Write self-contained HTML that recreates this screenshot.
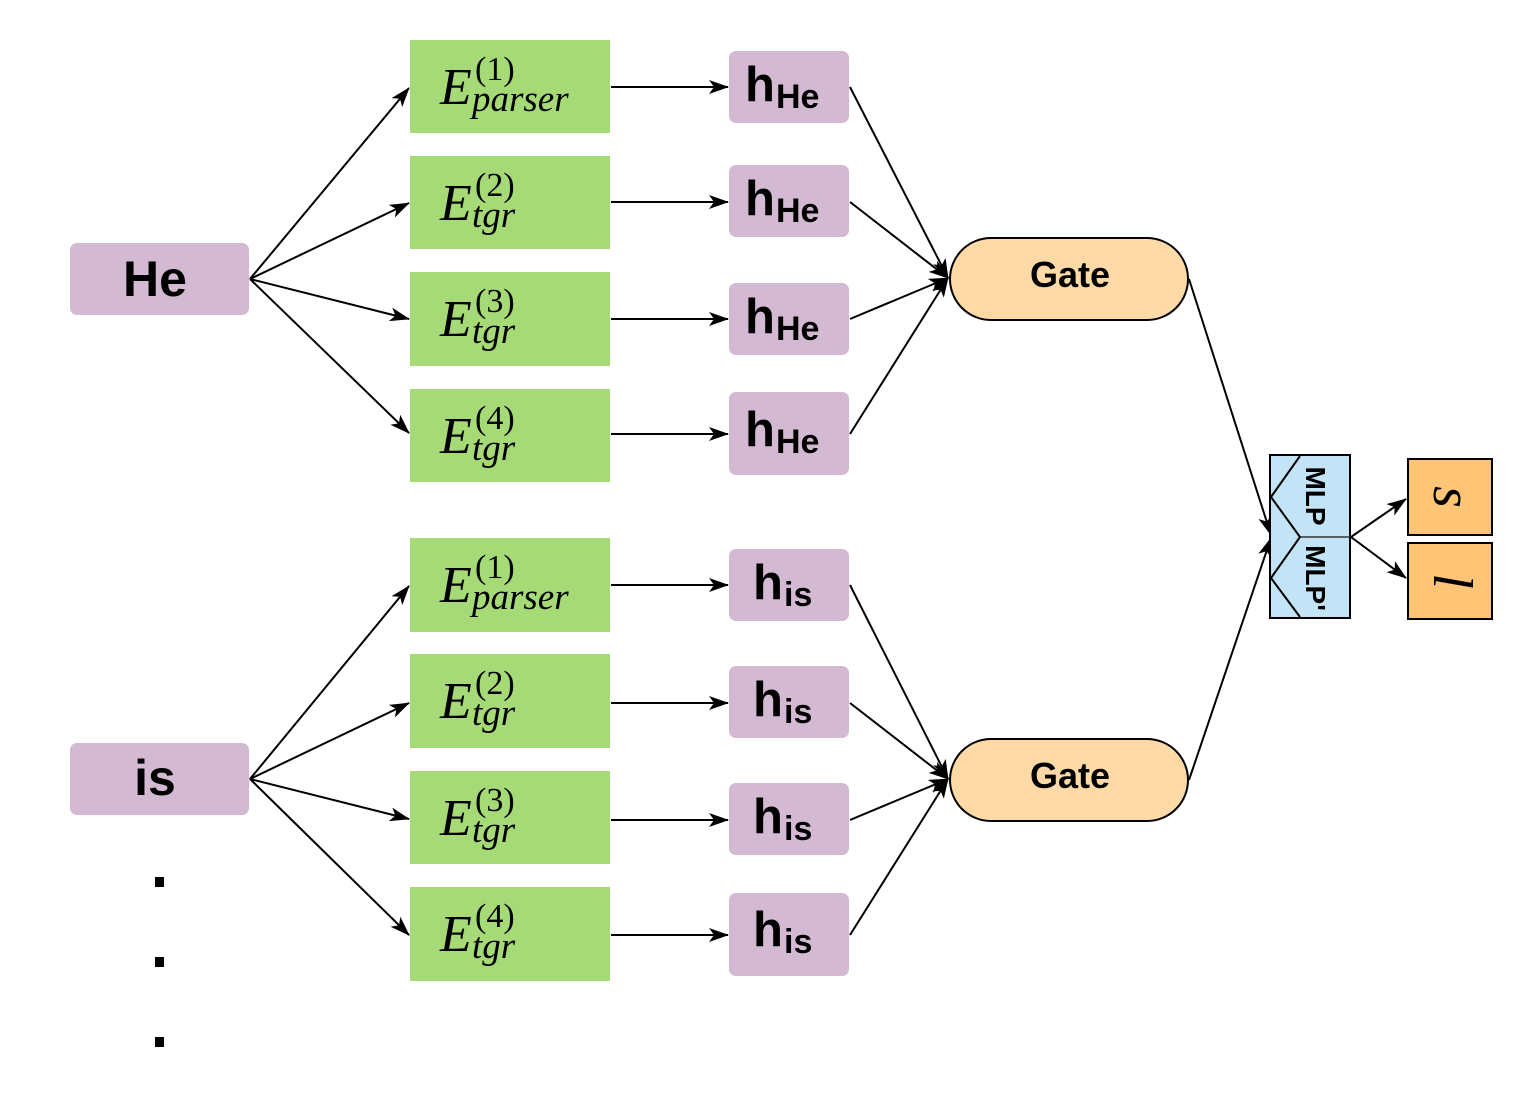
<!DOCTYPE html>
<html><head><meta charset="utf-8"><style>
html,body{margin:0;padding:0;background:#fff;}
svg{display:block;}
.e{font-family:"Liberation Serif",serif;font-style:italic;}
.r{font-family:"Liberation Serif",serif;}
.b{font-family:"Liberation Sans",sans-serif;font-weight:bold;}
</style></head><body>
<svg width="1532" height="1101" viewBox="0 0 1532 1101" xmlns="http://www.w3.org/2000/svg">
<defs>
<marker id="a" markerWidth="20" markerHeight="14" refX="19" refY="7" orient="auto" markerUnits="userSpaceOnUse">
<path d="M0,0 L20,7 L0,14 L5,7 z" fill="#000"/></marker>
</defs>
<g fill="#d3bad2">
<rect x="70" y="243" width="179" height="72" rx="7"/>
<rect x="70" y="743" width="179" height="72" rx="7"/>
<rect x="729" y="51" width="120" height="72" rx="7"/>
<rect x="729" y="165" width="120" height="72" rx="7"/>
<rect x="729" y="283" width="120" height="72" rx="7"/>
<rect x="729" y="392" width="120" height="83" rx="7"/>
<rect x="729" y="549" width="120" height="72" rx="7"/>
<rect x="729" y="666" width="120" height="72" rx="7"/>
<rect x="729" y="783" width="120" height="72" rx="7"/>
<rect x="729" y="893" width="120" height="83" rx="7"/>
</g>
<g fill="#a5da76">
<rect x="410" y="40" width="200" height="93"/>
<rect x="410" y="156" width="200" height="93"/>
<rect x="410" y="272" width="200" height="94"/>
<rect x="410" y="389" width="200" height="93"/>
<rect x="410" y="538" width="200" height="94"/>
<rect x="410" y="654" width="200" height="94"/>
<rect x="410" y="771" width="200" height="93"/>
<rect x="410" y="887" width="200" height="94"/>
</g>
<g stroke="#000" stroke-width="2" fill="none" marker-end="url(#a)">
<line x1="250" y1="279" x2="409" y2="88"/>
<line x1="250" y1="279" x2="409" y2="203"/>
<line x1="250" y1="279" x2="409" y2="319"/>
<line x1="250" y1="279" x2="409" y2="433"/>
<line x1="250" y1="779" x2="409" y2="586"/>
<line x1="250" y1="779" x2="409" y2="703"/>
<line x1="250" y1="779" x2="409" y2="819"/>
<line x1="250" y1="779" x2="409" y2="935"/>
<line x1="611" y1="87" x2="728" y2="87"/>
<line x1="611" y1="202" x2="728" y2="202"/>
<line x1="611" y1="319" x2="728" y2="319"/>
<line x1="611" y1="434" x2="728" y2="434"/>
<line x1="611" y1="585" x2="728" y2="585"/>
<line x1="611" y1="703" x2="728" y2="703"/>
<line x1="611" y1="820" x2="728" y2="820"/>
<line x1="611" y1="935" x2="728" y2="935"/>
<line x1="850" y1="87" x2="948" y2="278"/>
<line x1="850" y1="202" x2="948" y2="278"/>
<line x1="850" y1="319" x2="948" y2="278"/>
<line x1="850" y1="434" x2="948" y2="278"/>
<line x1="850" y1="585" x2="948" y2="779"/>
<line x1="850" y1="703" x2="948" y2="779"/>
<line x1="850" y1="820" x2="948" y2="779"/>
<line x1="850" y1="935" x2="948" y2="779"/>
<line x1="1189" y1="279" x2="1271" y2="535"/>
<line x1="1189" y1="780" x2="1271" y2="538"/>
<line x1="1351" y1="537" x2="1406" y2="499"/>
<line x1="1351" y1="537" x2="1406" y2="578"/>
</g>
<g fill="#ffd9a6" stroke="#000" stroke-width="2">
<rect x="950" y="238" width="238" height="82" rx="41"/>
<rect x="950" y="739" width="238" height="82" rx="41"/>
</g>
<g class="b" font-size="36" text-anchor="middle">
<text x="1070" y="287">Gate</text>
<text x="1070" y="788">Gate</text>
</g>
<rect x="1270" y="455" width="80" height="163" fill="#c3e4f6" stroke="#000" stroke-width="2"/>
<line x1="1300" y1="537" x2="1350" y2="537" stroke="#333" stroke-width="1.5"/>
<path d="M1300,456 L1271,497 L1300,537 L1271,578 L1300,617" fill="none" stroke="#000" stroke-width="2"/>
<g class="b" font-size="28">
<text transform="translate(1306,496) rotate(90)" text-anchor="middle">MLP</text>
<text transform="translate(1306,578) rotate(90)" text-anchor="middle">MLP'</text>
</g>
<rect x="1408" y="459" width="84" height="76" fill="#fdc575" stroke="#000" stroke-width="2"/>
<rect x="1408" y="543" width="84" height="76" fill="#fdc575" stroke="#000" stroke-width="2"/>
<text class="e" font-size="56" transform="translate(1434,497) rotate(90)" text-anchor="middle">s</text>
<text class="e" font-size="56" transform="translate(1434,581) rotate(90)" text-anchor="middle">l</text>
<g class="b" font-size="50" text-anchor="middle">
<text x="155" y="296">He</text>
<text x="155" y="795">is</text>
</g>
<g fill="#000">
<rect x="155" y="877" width="9" height="10"/>
<rect x="155" y="957" width="9" height="10"/>
<rect x="155" y="1037" width="9" height="10"/>
</g>
<g class="b">
<text x="745" y="101" font-size="49">h</text><text x="776" y="108" font-size="34">He</text>
<text x="745" y="215" font-size="49">h</text><text x="776" y="222" font-size="34">He</text>
<text x="745" y="333" font-size="49">h</text><text x="776" y="340" font-size="34">He</text>
<text x="745" y="446" font-size="49">h</text><text x="776" y="453" font-size="34">He</text>
<text x="753" y="599" font-size="49">h</text><text x="784" y="606" font-size="34">is</text>
<text x="753" y="716" font-size="49">h</text><text x="784" y="723" font-size="34">is</text>
<text x="753" y="833" font-size="49">h</text><text x="784" y="840" font-size="34">is</text>
<text x="753" y="946" font-size="49">h</text><text x="784" y="953" font-size="34">is</text>
</g>
<g>
<text class="e" x="440" y="104" font-size="52">E</text><text class="r" x="475" y="80" font-size="34">(1)</text><text class="e" x="472" y="111" font-size="37">parser</text>
<text class="e" x="440" y="220" font-size="52">E</text><text class="r" x="475" y="196" font-size="34">(2)</text><text class="e" x="472" y="227" font-size="37">tgr</text>
<text class="e" x="440" y="336" font-size="52">E</text><text class="r" x="475" y="312" font-size="34">(3)</text><text class="e" x="472" y="343" font-size="37">tgr</text>
<text class="e" x="440" y="453" font-size="52">E</text><text class="r" x="475" y="429" font-size="34">(4)</text><text class="e" x="472" y="460" font-size="37">tgr</text>
<text class="e" x="440" y="602" font-size="52">E</text><text class="r" x="475" y="578" font-size="34">(1)</text><text class="e" x="472" y="609" font-size="37">parser</text>
<text class="e" x="440" y="718" font-size="52">E</text><text class="r" x="475" y="694" font-size="34">(2)</text><text class="e" x="472" y="725" font-size="37">tgr</text>
<text class="e" x="440" y="835" font-size="52">E</text><text class="r" x="475" y="811" font-size="34">(3)</text><text class="e" x="472" y="842" font-size="37">tgr</text>
<text class="e" x="440" y="951" font-size="52">E</text><text class="r" x="475" y="927" font-size="34">(4)</text><text class="e" x="472" y="958" font-size="37">tgr</text>
</g>
</svg>
</body></html>
